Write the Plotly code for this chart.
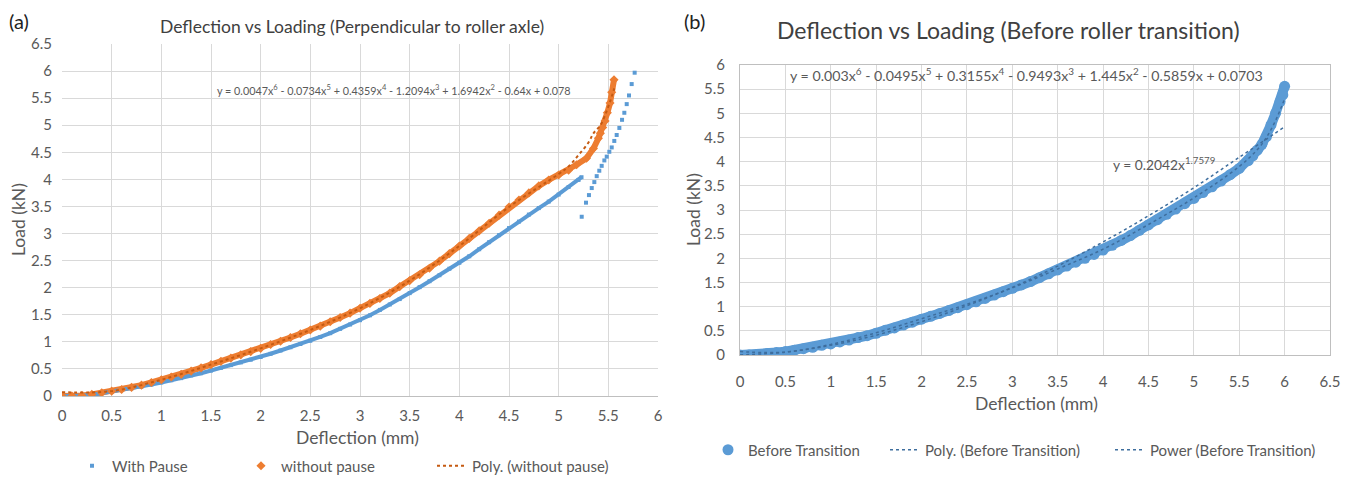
import plotly.graph_objects as go

# ---------------- (a) Perpendicular to roller axle ----------------
pause_x = [0, 0.1, 0.2, 0.3, 0.4, 0.5, 0.6, 0.7, 0.8, 0.9, 1.0, 1.1, 1.2, 1.3, 1.4, 1.5,
           1.6, 1.7, 1.8, 1.9, 2.0, 2.1, 2.2, 2.3, 2.4, 2.5, 2.6, 2.7, 2.8, 2.9, 3.0,
           3.1, 3.2, 3.3, 3.4, 3.5, 3.6, 3.7, 3.8, 3.9, 4.0, 4.1, 4.2, 4.3, 4.4, 4.5,
           4.6, 4.7, 4.8, 4.9, 5.0, 5.1, 5.2, 5.23]
pause_y = [0, 0, 0.01, 0.02, 0.05, 0.08, 0.11, 0.14, 0.17, 0.21, 0.25, 0.29, 0.33, 0.38, 0.42, 0.47,
           0.52, 0.57, 0.62, 0.67, 0.72, 0.78, 0.84, 0.90, 0.96, 1.02, 1.09, 1.16, 1.24, 1.32, 1.40,
           1.49, 1.59, 1.69, 1.79, 1.90, 2.01, 2.12, 2.23, 2.35, 2.46, 2.58, 2.71, 2.84, 2.97, 3.10,
           3.22, 3.35, 3.47, 3.59, 3.72, 3.86, 3.99, 4.04]
pause_jump_x = [5.232, 5.275, 5.305, 5.333, 5.359, 5.383, 5.409, 5.433, 5.46, 5.484, 5.51,
                5.534, 5.56, 5.584, 5.611, 5.638, 5.661, 5.685, 5.708, 5.735, 5.765]
pause_jump_y = [3.31, 3.57, 3.71, 3.84, 3.95, 4.06, 4.16, 4.25, 4.35, 4.42, 4.51,
                4.59, 4.71, 4.82, 4.95, 5.10, 5.23, 5.39, 5.55, 5.76, 5.97]

nopause_x = [0, 0.1, 0.2, 0.3, 0.4, 0.5, 0.6, 0.7, 0.8, 0.9, 1.0, 1.1, 1.2, 1.3, 1.4, 1.5,
             1.6, 1.7, 1.8, 1.9, 2.0, 2.1, 2.2, 2.3, 2.4, 2.5, 2.6, 2.7, 2.8, 2.9, 3.0,
             3.1, 3.2, 3.3, 3.4, 3.5, 3.6, 3.7, 3.8, 3.9, 4.0, 4.1, 4.2, 4.3, 4.4, 4.5,
             4.6, 4.7, 4.8, 4.9, 5.0, 5.1, 5.18, 5.28, 5.35, 5.40, 5.42, 5.443, 5.467,
             5.49, 5.517, 5.534, 5.557]
nopause_y = [0, 0, 0.01, 0.03, 0.06, 0.09, 0.12, 0.16, 0.20, 0.25, 0.30, 0.35, 0.40, 0.46, 0.52, 0.58,
             0.64, 0.70, 0.76, 0.82, 0.88, 0.95, 1.01, 1.08, 1.15, 1.22, 1.29, 1.37, 1.45, 1.53, 1.62,
             1.71, 1.80, 1.90, 2.02, 2.13, 2.24, 2.36, 2.49, 2.63, 2.77, 2.91, 3.05, 3.19, 3.34, 3.49,
             3.62, 3.75, 3.88, 3.99, 4.08, 4.17, 4.27, 4.39, 4.57, 4.76, 4.85, 4.96, 5.08,
             5.23, 5.41, 5.61, 5.84]

poly_a_x = [0, 0.5, 1.0, 1.5, 2.0, 2.5, 3.0, 3.5, 4.0, 4.5, 5.0, 5.1, 5.2, 5.3, 5.35, 5.42, 5.47, 5.52, 5.56]
poly_a_y = [0.07, 0.09, 0.30, 0.58, 0.88, 1.22, 1.62, 2.13, 2.77, 3.49, 4.10, 4.24, 4.45, 4.68, 4.85, 5.00, 5.20, 5.45, 5.68]

# ---------------- (b) Before roller transition ----------------
before_x = [0, 0.1, 0.2, 0.3, 0.4, 0.5, 0.6, 0.7, 0.8, 0.9, 1.0, 1.1, 1.2, 1.3, 1.4, 1.5,
            1.6, 1.7, 1.8, 1.9, 2.0, 2.1, 2.2, 2.3, 2.4, 2.5, 2.6, 2.7, 2.8, 2.9, 3.0,
            3.1, 3.2, 3.3, 3.4, 3.5, 3.6, 3.7, 3.8, 3.9, 4.0, 4.1, 4.2, 4.3, 4.4, 4.5,
            4.6, 4.7, 4.8, 4.9, 5.0, 5.1, 5.2, 5.3, 5.4, 5.5, 5.6, 5.65, 5.7, 5.75,
            5.8, 5.85, 5.9, 5.95, 5.98, 6.0]
before_y = [0, 0, 0.01, 0.03, 0.05, 0.07, 0.10, 0.13, 0.16, 0.20, 0.23, 0.27, 0.31, 0.36, 0.40, 0.45,
            0.51, 0.56, 0.62, 0.68, 0.74, 0.80, 0.86, 0.92, 0.98, 1.04, 1.10, 1.17, 1.24, 1.31, 1.38,
            1.45, 1.52, 1.60, 1.68, 1.76, 1.84, 1.92, 2.00, 2.08, 2.17, 2.27, 2.37, 2.47, 2.58, 2.69,
            2.80, 2.91, 3.02, 3.13, 3.24, 3.36, 3.48, 3.60, 3.73, 3.86, 4.02, 4.12, 4.24, 4.36,
            4.52, 4.76, 5.00, 5.24, 5.38, 5.56]

poly_b_x = [0, 0.5, 1.0, 1.5, 2.0, 2.5, 3.0, 3.5, 4.0, 4.5, 5.0, 5.5, 5.7, 5.8, 5.9, 6.0]
poly_b_y = [0.07, 0.06, 0.22, 0.46, 0.75, 1.05, 1.39, 1.78, 2.19, 2.70, 3.25, 3.90, 4.25, 4.50, 4.85, 5.30]

power_x = [0, 0.5, 1.0, 1.5, 2.0, 2.5, 3.0, 3.5, 4.0, 4.5, 5.0, 5.5, 6.0]
power_y = [0, 0.06, 0.20, 0.41, 0.69, 1.02, 1.40, 1.84, 2.34, 2.88, 3.46, 4.09, 4.72]

BLUE = "#5B9BD5"
ORANGE = "#ED7D31"
TREND_B = "#3E6E9E"
GRID = "#D9D9D9"
TXT = "#595959"
FONT = "Lato"

W, H = 1354, 479
OFF = 8  # page body margin offset of the rendered figure
ML, MR, MT, MB = 10, 10, 5, 60
PW, PH = W - ML - MR, H - MT - MB


def px_x(p):
    return (p - OFF - ML) / PW


def px_y(p):
    return (H - MB - (p - OFF)) / PH


fig = go.Figure()

# ---- (a) traces
fig.add_trace(go.Scatter(x=nopause_x, y=nopause_y, mode="lines", line=dict(color=ORANGE, width=6),
                         showlegend=False, hoverinfo="skip", xaxis="x", yaxis="y"))
fig.add_trace(go.Scatter(x=pause_x, y=pause_y, mode="lines", line=dict(color=BLUE, width=4),
                         showlegend=False, hoverinfo="skip", xaxis="x", yaxis="y"))
fig.add_trace(go.Scatter(x=pause_x + pause_jump_x, y=pause_y + pause_jump_y, mode="markers",
                         name="With Pause", marker=dict(symbol="square", size=4, color=BLUE),
                         xaxis="x", yaxis="y", legend="legend"))
fig.add_trace(go.Scatter(x=nopause_x, y=nopause_y, mode="markers", name="without pause",
                         marker=dict(symbol="diamond", size=7, color=ORANGE),
                         xaxis="x", yaxis="y", legend="legend2"))
fig.add_trace(go.Scatter(x=poly_a_x, y=poly_a_y, mode="lines", name="Poly. (without pause)",
                         line=dict(color="#C55A11", width=2, dash="dot", shape="spline"),
                         xaxis="x", yaxis="y", legend="legend3"))

# ---- (b) traces
fig.add_trace(go.Scatter(x=before_x, y=before_y, mode="lines", line=dict(color=BLUE, width=10),
                         showlegend=False, hoverinfo="skip", xaxis="x2", yaxis="y2"))
fig.add_trace(go.Scatter(x=before_x, y=before_y, mode="markers", name="Before Transition",
                         marker=dict(symbol="circle", size=11, color=BLUE),
                         xaxis="x2", yaxis="y2", legend="legend4"))
fig.add_trace(go.Scatter(x=poly_b_x, y=poly_b_y, mode="lines", name="Poly. (Before Transition)",
                         line=dict(color=TREND_B, width=1.5, dash="dot", shape="spline"),
                         xaxis="x2", yaxis="y2", legend="legend5"))
fig.add_trace(go.Scatter(x=power_x, y=power_y, mode="lines", name="Power (Before Transition)",
                         line=dict(color=TREND_B, width=1.5, dash="dot", shape="spline"),
                         xaxis="x2", yaxis="y2", legend="legend6"))

tickfont = dict(family=FONT, size=15, color=TXT)


def leg(x, y, size):
    return dict(orientation="h", x=px_x(x), y=px_y(y), xref="paper", yref="paper",
                xanchor="left", yanchor="middle",
                font=dict(family=FONT, size=size, color=TXT), bgcolor="rgba(0,0,0,0)")


fig.update_layout(
    width=W, height=H,
    margin=dict(l=ML, r=MR, t=MT, b=MB, autoexpand=False),
    paper_bgcolor="white", plot_bgcolor="white",
    font=dict(family=FONT, color=TXT),
    xaxis=dict(domain=[px_x(62), px_x(658)], range=[0, 6], dtick=0.5, tick0=0,
               showgrid=True, gridcolor=GRID, gridwidth=1, zeroline=False,
               showline=True, linecolor="#BFBFBF", ticks="", tickfont=tickfont,
               ticklabelstandoff=6, anchor="y", automargin=False),
    yaxis=dict(domain=[px_y(396), px_y(44)], range=[0, 6.5], dtick=0.5, tick0=0,
               showgrid=True, gridcolor=GRID, gridwidth=1, zeroline=False,
               showline=False, ticks="", tickfont=tickfont, ticklabelstandoff=9, anchor="x",
               automargin=False),
    xaxis2=dict(domain=[px_x(740), px_x(1330)], range=[0, 6.5], dtick=0.5, tick0=0,
                showgrid=True, gridcolor=GRID, gridwidth=1, zeroline=False,
                showline=True, mirror=True, linecolor="#BFBFBF", ticks="", tickfont=tickfont,
                ticklabelstandoff=13, anchor="y2", automargin=False),
    yaxis2=dict(domain=[px_y(355), px_y(65)], range=[0, 6], dtick=0.5, tick0=0,
                showgrid=True, gridcolor=GRID, gridwidth=1, zeroline=False,
                showline=True, mirror=True, linecolor="#BFBFBF", ticks="", tickfont=tickfont,
                ticklabelstandoff=11, anchor="x2", automargin=False),
    legend=leg(72, 466, 15),
    legend2=leg(241, 466, 15),
    legend3=leg(432, 466, 15),
    legend4=leg(708, 450, 15),
    legend5=leg(885, 450, 15),
    legend6=leg(1110, 450, 15),
)

ann = []


def add_text(text, x, y, size, color="#404040", angle=0, xanchor="center"):
    ann.append(dict(text=text, x=px_x(x), y=px_y(y), xref="paper", yref="paper",
                    xanchor=xanchor, yanchor="middle", showarrow=False, textangle=angle,
                    font=dict(family=FONT, size=size, color=color)))


add_text("(a)", 19, 21, 20, color="#222222")
add_text("(b)", 694, 21, 20, color="#222222")
add_text("Deflection vs Loading (Perpendicular to roller axle)", 352, 26, 17.5)
add_text("Deflection vs Loading (Before roller transition)", 1008, 30, 23)
add_text("Deflection (mm)", 357, 437, 17.5, color=TXT)
add_text("Deflection (mm)", 1036, 403, 17.5, color=TXT)
add_text("Load (kN)", 18, 220, 17.5, color=TXT, angle=-90)
add_text("Load (kN)", 693, 210, 17.5, color=TXT, angle=-90)
add_text("y = 0.0047x<sup>6</sup> - 0.0734x<sup>5</sup> + 0.4359x<sup>4</sup> - 1.2094x<sup>3</sup>"
         " + 1.6942x<sup>2</sup> - 0.64x + 0.078", 394, 90, 10.8, color=TXT)
add_text("y = 0.003x<sup>6</sup> - 0.0495x<sup>5</sup> + 0.3155x<sup>4</sup> - 0.9493x<sup>3</sup>"
         " + 1.445x<sup>2</sup> - 0.5859x + 0.0703", 1026, 74, 14.2, color=TXT)
add_text("y = 0.2042x<sup>1.7579</sup>", 1164, 163, 13.8, color=TXT)

fig.update_layout(annotations=ann)

fig.write_html("out.html")
